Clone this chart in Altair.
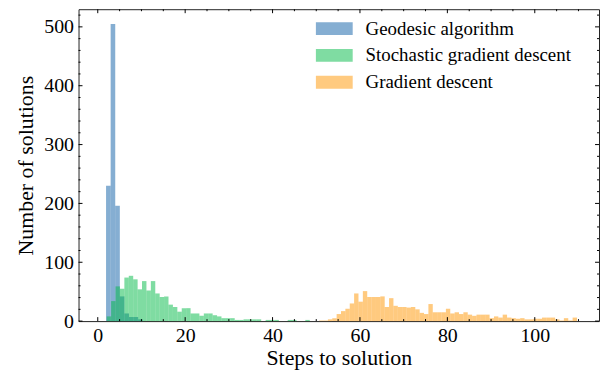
import altair as alt
import pandas as pd

# ---------------- data ----------------
series_names = ["Geodesic algorithm", "Stochastic gradient descent", "Gradient descent"]
series_colors = ["#0C5DA5", "#00B945", "#FF9500"]

geo_first_edge = 1.9
geo_bin_width = 1.05
geo_counts = [230, 505, 196, 42, 13, 7, 7, 3]

sgd_first_edge = 2.05
sgd_bin_width = 1.01
sgd_counts = [8, 34, 59, 55, 74, 77, 71, 54, 68, 52, 68, 47, 41, 42, 28, 24, 16, 22, 22,
              13, 13, 9, 13, 13, 10, 8, 5, 5, 5, 2, 2, 3, 3, 3, 3, 0, 2, 2, 2, 0, 0, 2,
              2, 0, 0, 2]

gd_first_edge = 50.66
gd_bin_width = 1.0
gd_counts = [1, 1, 3, 5, 12, 17, 21, 30, 47, 33, 51, 41, 41, 41, 42, 24, 39, 26, 24, 24,
             23, 24, 20, 14, 12, 29, 15, 15, 15, 21, 13, 15, 12, 15, 11, 9, 11, 11, 11, 5,
             8, 6, 11, 6, 5, 4, 5, 3, 3, 4, 4, 6, 6, 6, 3, 1, 5, 1, 6]

x_major = [0, 20, 40, 60, 80, 100]
x_minor = [5, 10, 15, 25, 30, 35, 45, 50, 55, 65, 70, 75, 85, 90, 95, 105, 110]
y_major = [0, 100, 200, 300, 400, 500]
y_minor = [20, 40, 60, 80, 120, 140, 160, 180, 220, 240, 260, 280, 320, 340, 360, 380,
           420, 440, 460, 480, 520]

x_domain = [-4.4, 114.7]
y_domain = [0, 530]

x_title = "Steps to solution"
y_title = "Number of solutions"

# ---------------- build table ----------------
rows = []
for name, first, width, counts in [
    (series_names[0], geo_first_edge, geo_bin_width, geo_counts),
    (series_names[1], sgd_first_edge, sgd_bin_width, sgd_counts),
    (series_names[2], gd_first_edge, gd_bin_width, gd_counts),
]:
    for i, c in enumerate(counts):
        if c > 0:
            rows.append({"series": name, "x0": first + i * width,
                         "x1": first + (i + 1) * width, "count": c, "base": 0})
df = pd.DataFrame(rows)

W, H = 524, 314
FONT = "Liberation Serif"
MAJOR, MINOR = 4, 2

xs = alt.Scale(domain=x_domain, nice=False, zero=False)
ys = alt.Scale(domain=y_domain, nice=False, zero=False)

x_axis = alt.Axis(values=x_major, title=x_title, ticks=False, domain=False,
                  grid=False, labelPadding=5, titlePadding=2, format="d")
y_axis = alt.Axis(values=y_major, title=y_title, ticks=False, domain=False,
                  grid=False, labelPadding=5, titlePadding=6, format="d")

bars = alt.Chart(df).mark_rect(opacity=0.5, strokeWidth=0).encode(
    x=alt.X("x0:Q", scale=xs, axis=x_axis, title=x_title),
    x2="x1:Q",
    y=alt.Y("count:Q", scale=ys, axis=y_axis, title=y_title),
    y2="base:Q",
    color=alt.Color("series:N",
                    scale=alt.Scale(domain=series_names, range=series_colors),
                    legend=alt.Legend(orient="none", legendX=248, legendY=10, title=None,
                                      symbolType="M-2.85,-1L2.85,-1L2.85,1L-2.85,1Z",
                                      symbolSize=169, symbolOpacity=0.5,
                                      symbolStrokeWidth=0, labelOffset=22,
                                      labelFont=FONT, labelFontSize=19,
                                      labelColor="black", rowPadding=7, padding=0,
                                      labelLimit=400)),
)

def xticks(values, length, top):
    d = pd.DataFrame({"v": values})
    if top:
        yy, yy2 = 0, length
    else:
        yy, yy2 = H, H - length
    return alt.Chart(d).mark_rule(color="black", strokeWidth=1).encode(
        x=alt.X("v:Q", scale=xs, axis=x_axis, title=x_title),
        y=alt.value(yy), y2=alt.value(yy2))

def yticks(values, length, right):
    d = pd.DataFrame({"v": values})
    if right:
        xx, xx2 = W, W - length
    else:
        xx, xx2 = 0, length
    return alt.Chart(d).mark_rule(color="black", strokeWidth=1).encode(
        y=alt.Y("v:Q", scale=ys, axis=y_axis, title=y_title),
        x=alt.value(xx), x2=alt.value(xx2))

layers = [bars,
          xticks(x_major, MAJOR, False), xticks(x_major, MAJOR, True),
          xticks(x_minor, MINOR, False), xticks(x_minor, MINOR, True),
          yticks(y_major, MAJOR, False), yticks(y_major, MAJOR, True),
          yticks(y_minor, MINOR, False), yticks(y_minor, MINOR, True)]

chart = alt.layer(*layers).properties(
    width=W, height=H,
    autosize=alt.AutoSizeParams(type="none"),
    padding={"left": 71, "top": 0, "right": 2, "bottom": 48},
).configure(
    font=FONT,
).configure_view(
    stroke="#222222", strokeWidth=1,
).configure_axis(
    labelFont=FONT, labelFontSize=20, labelColor="black",
    titleFont=FONT, titleFontSize=22, titleFontWeight="normal", titleColor="black",
)

chart.save("out.html", embed_options={"renderer": "svg", "actions": False})
